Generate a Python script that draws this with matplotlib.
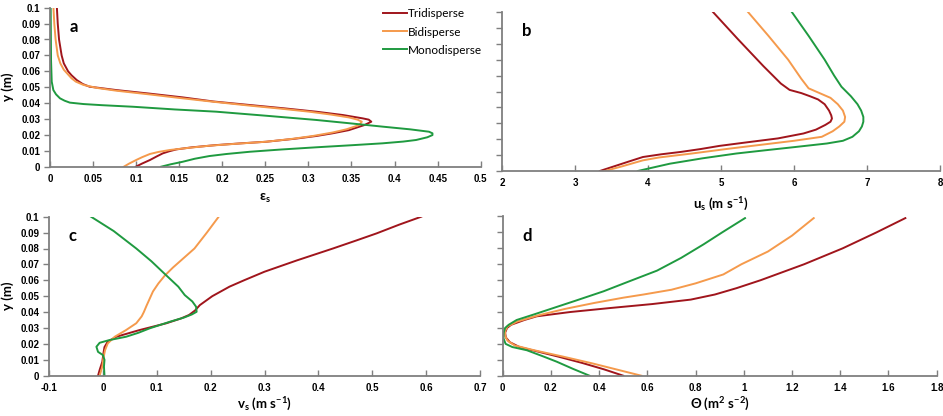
import matplotlib
matplotlib.use("Agg")
import matplotlib.pyplot as plt

plt.rcParams['mathtext.fontset'] = 'custom'
plt.rcParams['mathtext.rm'] = 'Lato'
plt.rcParams['mathtext.bf'] = 'Lato:bold'
plt.rcParams['mathtext.it'] = 'Lato:italic'

series = ["Tridisperse", "Bidisperse", "Monodisperse"]
colors = ["#A0151C", "#F59A4C", "#1F9A40"]

# Panel a: solid volume fraction eps_s vs y
a_tri_y = [0, 0.002, 0.0042, 0.0065, 0.0084, 0.0098, 0.0109, 0.0122, 0.0136, 0.0147, 0.0157, 0.0175,
           0.0193, 0.021, 0.023, 0.0262, 0.0283, 0.0296, 0.0304, 0.0325, 0.0346, 0.0367, 0.0388, 0.041,
           0.0436, 0.046, 0.0482, 0.0495, 0.0503, 0.052, 0.0545, 0.0575, 0.06, 0.065, 0.07, 0.08, 0.09, 0.1]
a_tri_x = [0.0996, 0.107, 0.116, 0.124, 0.131, 0.139, 0.147, 0.165, 0.193, 0.222, 0.251, 0.283,
           0.309, 0.328, 0.347, 0.365, 0.373, 0.370, 0.363, 0.340, 0.309, 0.272, 0.232, 0.190,
           0.154, 0.115, 0.077, 0.058, 0.046, 0.038, 0.031, 0.025, 0.021, 0.016, 0.0135, 0.0105, 0.009, 0.008]
a_bi_y = [0, 0.002, 0.0042, 0.006, 0.008, 0.0093, 0.0105, 0.0118, 0.0132, 0.0145, 0.0157, 0.0175,
          0.0193, 0.0215, 0.0235, 0.0262, 0.0283, 0.0296, 0.031, 0.0328, 0.0346, 0.0365, 0.0384, 0.0407,
          0.043, 0.0455, 0.0478, 0.0495, 0.0514, 0.0535, 0.0556, 0.061, 0.065, 0.07, 0.08, 0.09, 0.1]
a_bi_x = [0.0857, 0.092, 0.100, 0.107, 0.116, 0.126, 0.139, 0.160, 0.185, 0.218, 0.251, 0.281,
          0.305, 0.328, 0.344, 0.359, 0.362, 0.357, 0.347, 0.326, 0.301, 0.268, 0.232, 0.192,
          0.154, 0.115, 0.077, 0.055, 0.039, 0.030, 0.025, 0.016, 0.012, 0.009, 0.0065, 0.005, 0.004]
a_mono_y = [0, 0.0015, 0.0031, 0.005, 0.0067, 0.008, 0.0094, 0.0108, 0.0122, 0.0135, 0.0147, 0.0158,
            0.0168, 0.0185, 0.0199, 0.021, 0.022, 0.0235, 0.0252, 0.0273, 0.0294, 0.032, 0.0346, 0.036,
            0.0377, 0.0387, 0.0394, 0.0403, 0.0415, 0.043, 0.0455, 0.0482, 0.0535, 0.067, 0.1]
a_mono_x = [0.129, 0.140, 0.154, 0.168, 0.185, 0.205, 0.232, 0.268, 0.309, 0.350, 0.386, 0.410,
            0.425, 0.438, 0.444, 0.444, 0.440, 0.418, 0.386, 0.348, 0.309, 0.252, 0.193, 0.145,
            0.0965, 0.060, 0.039, 0.023, 0.017, 0.0116, 0.007, 0.0039, 0.002, 0.0012, 0.0008]

# Panel b: horizontal solid velocity u_s vs y
b_tri_y = [0, 0.003, 0.006, 0.0088, 0.0105, 0.012, 0.0138, 0.0158, 0.018, 0.0205, 0.0236, 0.026,
           0.029, 0.031, 0.033, 0.035, 0.038, 0.042, 0.045, 0.047, 0.049, 0.051, 0.055, 0.066, 0.083, 0.1]
b_tri_x = [3.34, 3.54, 3.74, 3.93, 4.18, 4.45, 4.72, 4.98, 5.35, 5.78, 6.13, 6.30,
           6.43, 6.50, 6.52, 6.51, 6.48, 6.42, 6.33, 6.22, 6.10, 5.94, 5.82, 5.58, 5.23, 4.89]
b_bi_y = [0, 0.003, 0.0067, 0.0085, 0.011, 0.0141, 0.0165, 0.019, 0.0215, 0.025, 0.028, 0.031,
          0.034, 0.038, 0.042, 0.046, 0.049, 0.052, 0.058, 0.07, 0.085, 0.1]
b_bi_x = [3.41, 3.65, 3.93, 4.15, 4.60, 5.12, 5.55, 6.00, 6.38, 6.53, 6.62, 6.69,
          6.70, 6.67, 6.60, 6.50, 6.35, 6.20, 6.10, 5.92, 5.65, 5.37]
b_mono_y = [0, 0.002, 0.0046, 0.008, 0.011, 0.013, 0.015, 0.0173, 0.019, 0.0215, 0.025, 0.028,
            0.031, 0.034, 0.038, 0.042, 0.047, 0.053, 0.06, 0.07, 0.085, 0.1]
b_mono_x = [3.86, 4.05, 4.30, 4.75, 5.21, 5.60, 6.00, 6.45, 6.67, 6.80, 6.89, 6.93,
            6.95, 6.95, 6.92, 6.87, 6.78, 6.65, 6.55, 6.42, 6.20, 5.97]

# Panel c: vertical solid velocity v_s vs y
c_tri_y = [0, 0.0036, 0.0088, 0.014, 0.018, 0.0214, 0.0245, 0.0287, 0.033, 0.0360, 0.0382, 0.041,
           0.0444, 0.050, 0.056, 0.060, 0.0654, 0.0725, 0.08, 0.085, 0.0895, 0.095, 0.1]
c_tri_x = [-0.009, -0.006, -0.001, 0.001, 0.003, 0.009, 0.025, 0.068, 0.118, 0.145, 0.160, 0.171,
           0.180, 0.203, 0.235, 0.262, 0.300, 0.360, 0.427, 0.470, 0.508, 0.550, 0.591]
c_bi_y = [0, 0.0057, 0.011, 0.016, 0.0203, 0.0245, 0.0287, 0.033, 0.0373, 0.040, 0.044, 0.047,
          0.053, 0.058, 0.063, 0.068, 0.074, 0.080, 0.090, 0.1]
c_bi_x = [-0.006, -0.001, 0.001, 0.004, 0.009, 0.022, 0.043, 0.062, 0.072, 0.076, 0.081, 0.085,
          0.093, 0.103, 0.115, 0.130, 0.150, 0.170, 0.193, 0.215]
c_mono_y = [0, 0.0057, 0.01, 0.013, 0.015, 0.0182, 0.0207, 0.0224, 0.0245, 0.0270, 0.0298, 0.034,
            0.0365, 0.0385, 0.0402, 0.0434, 0.0467, 0.0507, 0.056, 0.063, 0.072, 0.08, 0.091, 0.1]
c_mono_x = [0.003, 0.002, 0.003, 0.0, -0.009, -0.012, -0.006, 0.012, 0.043, 0.066, 0.087, 0.125,
            0.150, 0.165, 0.174, 0.173, 0.166, 0.152, 0.140, 0.118, 0.090, 0.062, 0.020, -0.022]

# Panel d: granular temperature Theta vs y
d_tri_y = [0, 0.004, 0.008, 0.012, 0.015, 0.018, 0.021, 0.024, 0.027, 0.030, 0.032, 0.035,
           0.0373, 0.040, 0.0425, 0.045, 0.0478, 0.051, 0.055, 0.06, 0.07, 0.08, 0.09, 0.099]
d_tri_x = [0.50, 0.42, 0.33, 0.23, 0.15, 0.07, 0.03, 0.013, 0.01, 0.018, 0.035, 0.09,
           0.141, 0.28, 0.445, 0.62, 0.78, 0.88, 0.97, 1.07, 1.25, 1.41, 1.55, 1.67]
d_bi_y = [0, 0.004, 0.0078, 0.012, 0.016, 0.019, 0.022, 0.025, 0.028, 0.031, 0.034, 0.038,
          0.042, 0.0457, 0.049, 0.051, 0.054, 0.058, 0.0636, 0.07, 0.078, 0.088, 0.099]
d_bi_x = [0.575, 0.47, 0.37, 0.25, 0.13, 0.05, 0.02, 0.01, 0.01, 0.02, 0.06, 0.15,
          0.26, 0.38, 0.50, 0.584, 0.70, 0.80, 0.915, 0.99, 1.10, 1.20, 1.29]
d_mono_y = [0, 0.0044, 0.0088, 0.012, 0.016, 0.018, 0.020, 0.0236, 0.027, 0.030, 0.032, 0.035,
            0.0385, 0.0425, 0.047, 0.053, 0.059, 0.066, 0.074, 0.0825, 0.09, 0.099]
d_mono_x = [0.36, 0.29, 0.224, 0.17, 0.10, 0.04, 0.012, 0.003, 0.004, 0.01, 0.025, 0.058,
            0.13, 0.21, 0.30, 0.418, 0.52, 0.64, 0.74, 0.833, 0.91, 1.005]

W, H = 943, 416
fig = plt.figure(figsize=(W / 100, H / 100), dpi=100)

def rect(left, top, right, bottom):
    return [left / W, 1 - bottom / H, (right - left) / W, (bottom - top) / H]

axa = fig.add_axes(rect(50, 7.7, 480.7, 166.7))
axb = fig.add_axes(rect(502, 12, 940, 171))
axc = fig.add_axes(rect(49, 216.7, 480, 375.7))
axd = fig.add_axes(rect(502.7, 216.5, 936.7, 375.7))

data = {
    axa: [(a_tri_x, a_tri_y), (a_bi_x, a_bi_y), (a_mono_x, a_mono_y)],
    axb: [(b_tri_x, b_tri_y), (b_bi_x, b_bi_y), (b_mono_x, b_mono_y)],
    axc: [(c_tri_x, c_tri_y), (c_bi_x, c_bi_y), (c_mono_x, c_mono_y)],
    axd: [(d_tri_x, d_tri_y), (d_bi_x, d_bi_y), (d_mono_x, d_mono_y)],
}

xlims = {axa: (0, 0.5), axb: (2, 8), axc: (-0.1, 0.7), axd: (0, 1.8)}
xticks = {
    axa: [0, 0.05, 0.1, 0.15, 0.2, 0.25, 0.3, 0.35, 0.4, 0.45, 0.5],
    axb: [2, 3, 4, 5, 6, 7, 8],
    axc: [-0.1, 0, 0.1, 0.2, 0.3, 0.4, 0.5, 0.6, 0.7],
    axd: [0, 0.2, 0.4, 0.6, 0.8, 1, 1.2, 1.4, 1.6, 1.8],
}
xticklabels = {
    axa: ["0", "0.05", "0.1", "0.15", "0.2", "0.25", "0.3", "0.35", "0.4", "0.45", "0.5"],
    axb: ["2", "3", "4", "5", "6", "7", "8"],
    axc: ["-0.1", "0", "0.1", "0.2", "0.3", "0.4", "0.5", "0.6", "0.7"],
    axd: ["0", "0.2", "0.4", "0.6", "0.8", "1", "1.2", "1.4", "1.6", "1.8"],
}
yticks = [0, 0.01, 0.02, 0.03, 0.04, 0.05, 0.06, 0.07, 0.08, 0.09, 0.1]
yticklabels = ["0", "0.01", "0.02", "0.03", "0.04", "0.05", "0.06", "0.07", "0.08", "0.09", "0.1"]
letters = {axa: "a", axb: "b", axc: "c", axd: "d"}
xlabels = {
    axa: r"ε$_{\mathbf{s}}$",
    axb: r"u$_{\mathbf{s}}$ (m s$^{\mathbf{-1}}$)",
    axc: r"v$_{\mathbf{s}}$ (m s$^{\mathbf{-1}}$)",
    axd: r"Θ (m$^{\mathbf{2}}$ s$^{\mathbf{-2}}$)",
}
spine_col = "#7f7f7f"
fam = ["Lato", "DejaVu Sans"]

for ax in [axa, axb, axc, axd]:
    for (xs, ys), c, lab in zip(data[ax], colors, series):
        ax.plot(xs, ys, color=c, lw=1.4, label=lab, solid_joinstyle='round')
    ax.set_xlim(*xlims[ax])
    ax.set_ylim(0, 0.1)
    ax.set_xticks(xticks[ax])
    ax.set_xticklabels(xticklabels[ax], fontfamily="Liberation Sans", fontweight="bold", fontsize=7)
    ax.set_yticks(yticks)
    if ax in (axa, axc):
        ax.set_yticklabels(yticklabels, fontfamily="Liberation Sans", fontweight="bold", fontsize=7)
        ax.set_ylabel("y (m)", fontfamily=fam, fontweight="bold", fontsize=9.5, labelpad=4)
    else:
        ax.set_yticklabels([])
    pad = 6 if ax in (axa, axb) else 2.5
    ax.set_xlabel(xlabels[ax], fontfamily=fam, fontweight="bold", fontsize=9.5, labelpad=pad)
    for s in ["top", "right"]:
        ax.spines[s].set_visible(False)
    for s in ["left", "bottom"]:
        ax.spines[s].set_color(spine_col)
        ax.spines[s].set_linewidth(1.3)
    ax.tick_params(axis="x", direction="in", length=4, width=1, color=spine_col, pad=5)
    ax.tick_params(axis="y", direction="out", length=4, width=1, color=spine_col, pad=3)
    ax.text(0.045, 0.88, letters[ax], transform=ax.transAxes, fontfamily=fam,
            fontweight="bold", fontsize=12, ha="left", va="center")
    ax.patch.set_alpha(0)

axa.yaxis.set_label_coords(-36 / 430.7, 0.5)
axc.yaxis.set_label_coords(-35 / 431, 0.5)

leg = axa.legend(loc="upper right", bbox_to_anchor=(1.02, 1.04), frameon=False,
                 prop={"family": "Lato", "size": 8.5}, handlelength=2.0,
                 handletextpad=0.1, labelspacing=0.6, borderaxespad=0.2)

fig.savefig("out.png", dpi=100)
